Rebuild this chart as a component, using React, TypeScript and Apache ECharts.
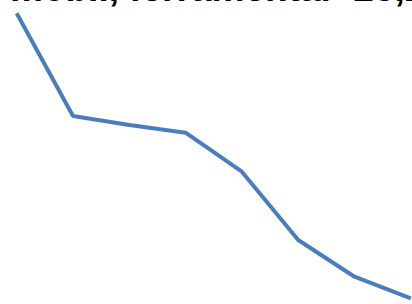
import React, { useEffect, useRef } from "react";
import * as echarts from "echarts";

const categories = ["1", "2", "3", "4", "5", "6", "7", "8"];
const values = [290.7, 188, 179, 171.3, 132.3, 64, 27.3, 5.7];
const titleText = "mobil, ferramental -25,2%";

export default function App() {
  const ref = useRef<HTMLDivElement>(null);
  useEffect(() => {
    const chart = echarts.init(ref.current!, null, { renderer: "svg" });
    chart.setOption({
      animation: false,
      backgroundColor: "#ffffff",
      grid: { left: 16.7, right: 1.2, top: 0, bottom: 0 },
      xAxis: {
        type: "category",
        data: categories,
        boundaryGap: false,
        show: false,
      },
      yAxis: { type: "value", min: 0, max: 304, show: false },
      series: [
        {
          type: "line",
          data: values,
          symbol: "none",
          lineStyle: { color: "#4a7ebb", width: 4 },
          itemStyle: { color: "#4a7ebb" },
        },
      ],
      graphic: [
        {
          type: "text",
          left: 10,
          top: -30,
          style: {
            text: titleText,
            font: "bold 37px 'Liberation Sans', Arial, sans-serif",
            fill: "#000000",
          },
        },
      ],
    });
    return () => chart.dispose();
  }, []);
  return (
    <div
      ref={ref}
      style={{ position: "fixed", left: 0, top: 0, width: 412, height: 304 }}
    />
  );
}
